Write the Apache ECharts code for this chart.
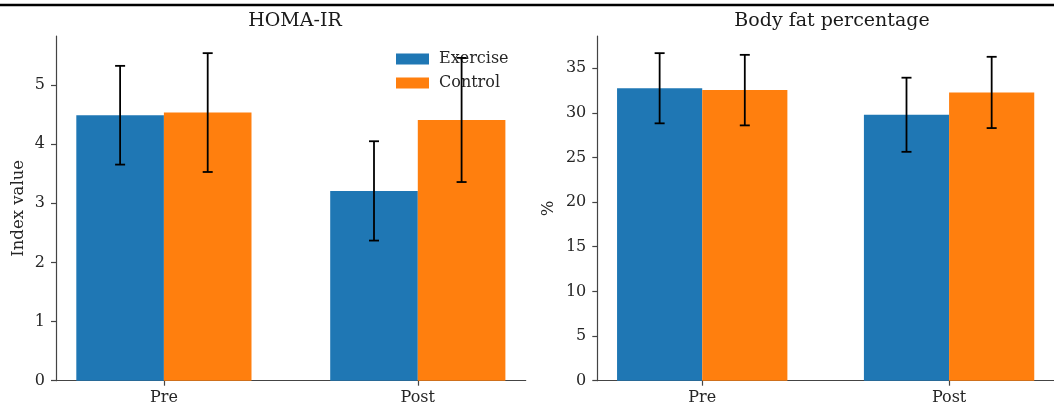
<!DOCTYPE html>
<html>
<head>
<meta charset="utf-8">
<script src="https://cdn.jsdelivr.net/npm/echarts@6/dist/echarts.min.js"></script>
<style>html,body{margin:0;padding:0;background:#fff}#c{width:1054px;height:406px}</style>
</head>
<body>
<div id="c"></div>
<script>
// ---- data ----
const categories = ['Pre', 'Post'];
const groups = ['Exercise', 'Control'];

const homaExercise = [4.49, 3.21];
const homaExerciseErr = [0.835, 0.84];
const homaControl = [4.535, 4.41];
const homaControlErr = [1.005, 1.05];

const fatExercise = [32.75, 29.78];
const fatExerciseErr = [3.93, 4.15];
const fatControl = [32.54, 32.28];
const fatControlErr = [3.95, 3.99];

const homaTicks = [0, 1, 2, 3, 4, 5];
const fatTicks = [0, 5, 10, 15, 20, 25, 30, 35];
const catTicks = [0, 1];

// ---- style ----
const FONT = 'DejaVu Serif';
const BAR_W = 0.345;
const COLORS = ['#1f77b4', '#ff7f0e'];
const AXIS_COLOR = '#444';
const TEXT_COLOR = '#262626';

function barRender(offset) {
  return function (params, api) {
    const x = api.value(0), v = api.value(1);
    const p0 = api.coord([x + offset, v]);
    const p1 = api.coord([x + offset + BAR_W, 0]);
    return {
      type: 'rect',
      shape: { x: p0[0], y: p0[1], width: p1[0] - p0[0], height: p1[1] - p0[1] },
      style: api.style()
    };
  };
}
function errRender(offset) {
  return function (params, api) {
    const x = api.value(0) + offset, m = api.value(1), e = api.value(2);
    const top = api.coord([x, m + e]);
    const bot = api.coord([x, m - e]);
    const cap = 5;
    const st = { stroke: '#000', lineWidth: 1.8 };
    return {
      type: 'group',
      children: [
        { type: 'line', shape: { x1: top[0], y1: top[1], x2: bot[0], y2: bot[1] }, style: st },
        { type: 'line', shape: { x1: top[0] - cap, y1: top[1], x2: top[0] + cap, y2: top[1] }, style: st },
        { type: 'line', shape: { x1: bot[0] - cap, y1: bot[1], x2: bot[0] + cap, y2: bot[1] }, style: st }
      ]
    };
  };
}
function pairs(vals) { return vals.map((v, i) => [i, v]); }
function triples(vals, errs) { return vals.map((v, i) => [i, v, errs[i]]); }

function xAxisCfg(gridIndex) {
  return {
    type: 'value', gridIndex, min: -0.425, max: 1.425,
    splitLine: { show: false },
    axisLine: { show: true, onZero: false, lineStyle: { color: AXIS_COLOR, width: 1.2 } },
    axisTick: { show: true, customValues: catTicks, length: 5, lineStyle: { color: AXIS_COLOR, width: 1.2 } },
    axisLabel: { customValues: catTicks, formatter: v => categories[Math.round(v)], fontFamily: FONT, fontSize: 16, color: TEXT_COLOR, margin: 9 }
  };
}
function yAxisCfg(gridIndex, max, ticks, name, nameGap) {
  return {
    type: 'value', gridIndex, min: 0, max: max,
    name: name, nameLocation: 'middle', nameGap: nameGap,
    nameTextStyle: { fontFamily: FONT, fontSize: 16.5, color: TEXT_COLOR },
    splitLine: { show: false },
    axisLine: { show: true, onZero: false, lineStyle: { color: AXIS_COLOR, width: 1.2 } },
    axisTick: { show: true, customValues: ticks, length: 5, lineStyle: { color: AXIS_COLOR, width: 1.2 } },
    axisLabel: { customValues: ticks, fontFamily: FONT, fontSize: 16, color: TEXT_COLOR, margin: 11 }
  };
}

const chart = echarts.init(document.getElementById('c'), null, { renderer: 'canvas' });
chart.setOption({
  animation: false,
  backgroundColor: '#fff',
  graphic: [{
    type: 'line', shape: { x1: 0, y1: 5, x2: 1054, y2: 5 },
    style: { stroke: '#000', lineWidth: 2.5 }, z: 100
  }],
  title: [
    { text: 'HOMA-IR', left: 290, top: 7, textAlign: 'center',
      textStyle: { fontFamily: FONT, fontSize: 19, fontWeight: 'normal', color: '#1a1a1a' } },
    { text: 'Body fat percentage', left: 827, top: 7, textAlign: 'center',
      textStyle: { fontFamily: FONT, fontSize: 19, fontWeight: 'normal', color: '#1a1a1a' } }
  ],
  legend: {
    data: groups, left: 391, top: 46, orient: 'vertical',
    icon: 'rect', itemWidth: 33, itemHeight: 11, itemGap: 8,
    textStyle: { fontFamily: FONT, fontSize: 16, color: TEXT_COLOR, lineHeight: 16, padding: [0, 0, 0, 5] },
    z: 3
  },
  grid: [
    { left: 56, right: 1054 - 525.7, top: 36, bottom: 406 - 380.7 },
    { left: 597.3, right: -13, top: 36, bottom: 406 - 380.7 }
  ],
  xAxis: [xAxisCfg(0), xAxisCfg(1)],
  yAxis: [
    yAxisCfg(0, 5.83, homaTicks, 'Index value', 29),
    yAxisCfg(1, 38.6, fatTicks, '%', 40)
  ],
  series: [
    { name: groups[0], type: 'custom', xAxisIndex: 0, yAxisIndex: 0, renderItem: barRender(-BAR_W), data: pairs(homaExercise), itemStyle: { color: COLORS[0] } },
    { name: groups[1], type: 'custom', xAxisIndex: 0, yAxisIndex: 0, renderItem: barRender(0), data: pairs(homaControl), itemStyle: { color: COLORS[1] } },
    { name: 'errA1', type: 'custom', xAxisIndex: 0, yAxisIndex: 0, renderItem: errRender(-BAR_W / 2), data: triples(homaExercise, homaExerciseErr), z: 10, silent: true },
    { name: 'errA2', type: 'custom', xAxisIndex: 0, yAxisIndex: 0, renderItem: errRender(BAR_W / 2), data: triples(homaControl, homaControlErr), z: 10, silent: true },
    { name: groups[0], type: 'custom', xAxisIndex: 1, yAxisIndex: 1, renderItem: barRender(-BAR_W), data: pairs(fatExercise), itemStyle: { color: COLORS[0] } },
    { name: groups[1], type: 'custom', xAxisIndex: 1, yAxisIndex: 1, renderItem: barRender(0), data: pairs(fatControl), itemStyle: { color: COLORS[1] } },
    { name: 'errB1', type: 'custom', xAxisIndex: 1, yAxisIndex: 1, renderItem: errRender(-BAR_W / 2), data: triples(fatExercise, fatExerciseErr), z: 10, silent: true },
    { name: 'errB2', type: 'custom', xAxisIndex: 1, yAxisIndex: 1, renderItem: errRender(BAR_W / 2), data: triples(fatControl, fatControlErr), z: 10, silent: true }
  ]
});
</script>
</body>
</html>
